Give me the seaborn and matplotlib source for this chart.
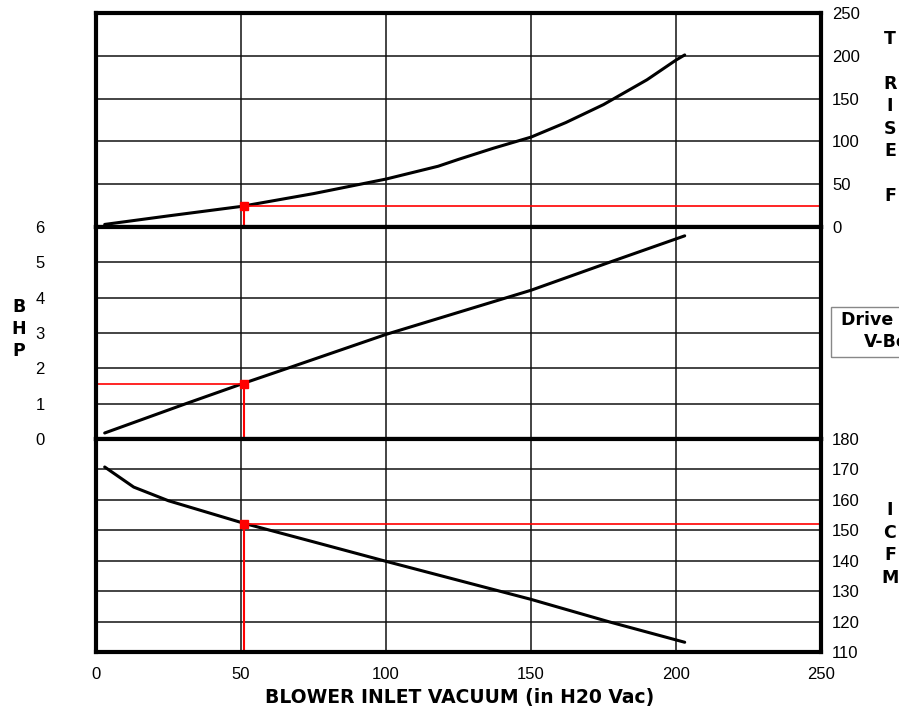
import matplotlib
matplotlib.use("Agg")
import matplotlib.pyplot as plt
import seaborn as sns
import pandas as pd
from matplotlib.patches import Rectangle

# ---- data ----
x_ticks = [0, 50, 100, 150, 200, 250]

vac_temp = [3, 25, 50, 75, 100, 118, 125, 137, 150, 162, 175, 190, 200, 203]
temp_rise = [3, 13, 24, 39, 56, 71, 79, 92, 105, 122, 143, 172, 195, 201]
temp_ticks = [0, 50, 100, 150, 200, 250]

vac_bhp = [3, 31, 51, 66, 100, 150, 177, 203]
bhp = [0.17, 1.0, 1.58, 2.0, 2.96, 4.21, 5.0, 5.75]
bhp_ticks = [0, 1, 2, 3, 4, 5, 6]

vac_icfm = [3, 13, 25, 51, 75, 100, 150, 177, 203]
icfm = [170.8, 164.2, 159.7, 152.3, 146.2, 139.8, 127.3, 119.9, 113.2]
icfm_ticks = [110, 120, 130, 140, 150, 160, 170, 180]

op_vac = 51
op_temp = 24
op_bhp = 1.57
op_icfm = 152.2

sns.set_style("white")
plt.rcParams['font.family'] = ['Liberation Sans', 'DejaVu Sans']
plt.rcParams['xtick.color'] = 'black'
plt.rcParams['ytick.color'] = 'black'
plt.rcParams['text.color'] = 'black'

W, H = 899, 713
fig = plt.figure(figsize=(W / 100, H / 100), dpi=100)

def rect(top, bottom):
    return [96 / W, 1 - bottom / H, (821 - 96) / W, (bottom - top) / H]

ax_t = fig.add_axes(rect(13, 227))
ax_b = fig.add_axes(rect(227, 439))
ax_c = fig.add_axes(rect(439, 652))

for ax in (ax_t, ax_b, ax_c):
    ax.set_xlim(0, 250)
    ax.set_xticks(x_ticks)
    ax.grid(True, color='#111111', linewidth=1.1)
    ax.set_axisbelow(True)
    for s in ax.spines.values():
        s.set_linewidth(3.0)
        s.set_color('black')
    ax.tick_params(length=0, labelcolor='black')

# top: temperature rise
df_t = pd.DataFrame({'vac': vac_temp, 'val': temp_rise})
sns.lineplot(data=df_t, x='vac', y='val', ax=ax_t, color='black', linewidth=2.2)
ax_t.set_ylim(0, 250)
ax_t.set_yticks(temp_ticks)
ax_t.yaxis.tick_right()
ax_t.tick_params(axis='y', labelleft=False, labelright=True, pad=8, labelsize=12)
ax_t.tick_params(axis='x', labelbottom=False)
ax_t.plot([op_vac, op_vac], [0, op_temp], color='red', linewidth=1.5)
ax_t.plot([op_vac, 250], [op_temp, op_temp], color='red', linewidth=1.2)
ax_t.plot([op_vac], [op_temp], marker='s', color='red', markersize=6)
ax_t.set_xlabel('')
ax_t.set_ylabel('')

# middle: BHP
df_b = pd.DataFrame({'vac': vac_bhp, 'val': bhp})
sns.lineplot(data=df_b, x='vac', y='val', ax=ax_b, color='black', linewidth=2.2)
ax_b.set_ylim(0, 6)
ax_b.set_yticks(bhp_ticks)
ax_b.tick_params(axis='y', labelleft=True, labelright=False, pad=37, labelsize=12)
ax_b.tick_params(axis='x', labelbottom=False)
ax_b.plot([op_vac, op_vac], [0, op_bhp], color='red', linewidth=1.5)
ax_b.plot([0, op_vac], [op_bhp, op_bhp], color='red', linewidth=1.2)
ax_b.plot([op_vac], [op_bhp], marker='s', color='red', markersize=6)
ax_b.set_xlabel('')
ax_b.set_ylabel('')

# bottom: ICFM
df_c = pd.DataFrame({'vac': vac_icfm, 'val': icfm})
sns.lineplot(data=df_c, x='vac', y='val', ax=ax_c, color='black', linewidth=2.2)
ax_c.set_ylim(110, 180)
ax_c.set_yticks(icfm_ticks)
ax_c.yaxis.tick_right()
ax_c.tick_params(axis='y', labelleft=False, labelright=True, pad=8, labelsize=12)
ax_c.tick_params(axis='x', labelbottom=True, pad=11, labelsize=12)
ax_c.plot([op_vac, op_vac], [110, op_icfm], color='red', linewidth=1.5)
ax_c.plot([op_vac, 250], [op_icfm, op_icfm], color='red', linewidth=1.2)
ax_c.plot([op_vac], [op_icfm], marker='s', color='red', markersize=6)
ax_c.set_xlabel('')
ax_c.set_ylabel('')

bold = dict(fontweight='bold', family='DejaVu Sans', color='black')

fig.text(460 / W, 1 - 698 / H, 'BLOWER INLET VACUUM (in H20 Vac)',
         ha='center', va='center', fontsize=13.5, **bold)
fig.text(890 / W, 1 - 117.5 / H, 'T\n\nR\nI\nS\nE\n\nF',
         ha='center', va='center', fontsize=12.5, linespacing=1.31, **bold)
fig.text(890 / W, 1 - 544 / H, 'I\nC\nF\nM',
         ha='center', va='center', fontsize=12.5, linespacing=1.31, **bold)
fig.text(19 / W, 1 - 329 / H, 'B\nH\nP',
         ha='center', va='center', fontsize=12.5, linespacing=1.31, **bold)

fig.patches.append(Rectangle((831 / W, 1 - 357 / H), 130 / W, 50 / H,
                             transform=fig.transFigure, fill=False,
                             edgecolor='#888888', linewidth=1.0))
fig.text(893 / W, 1 - 331 / H, 'Drive Type\nV-Belt',
         ha='center', va='center', fontsize=12.5, linespacing=1.31, **bold)

fig.savefig('out.png', dpi=100)
